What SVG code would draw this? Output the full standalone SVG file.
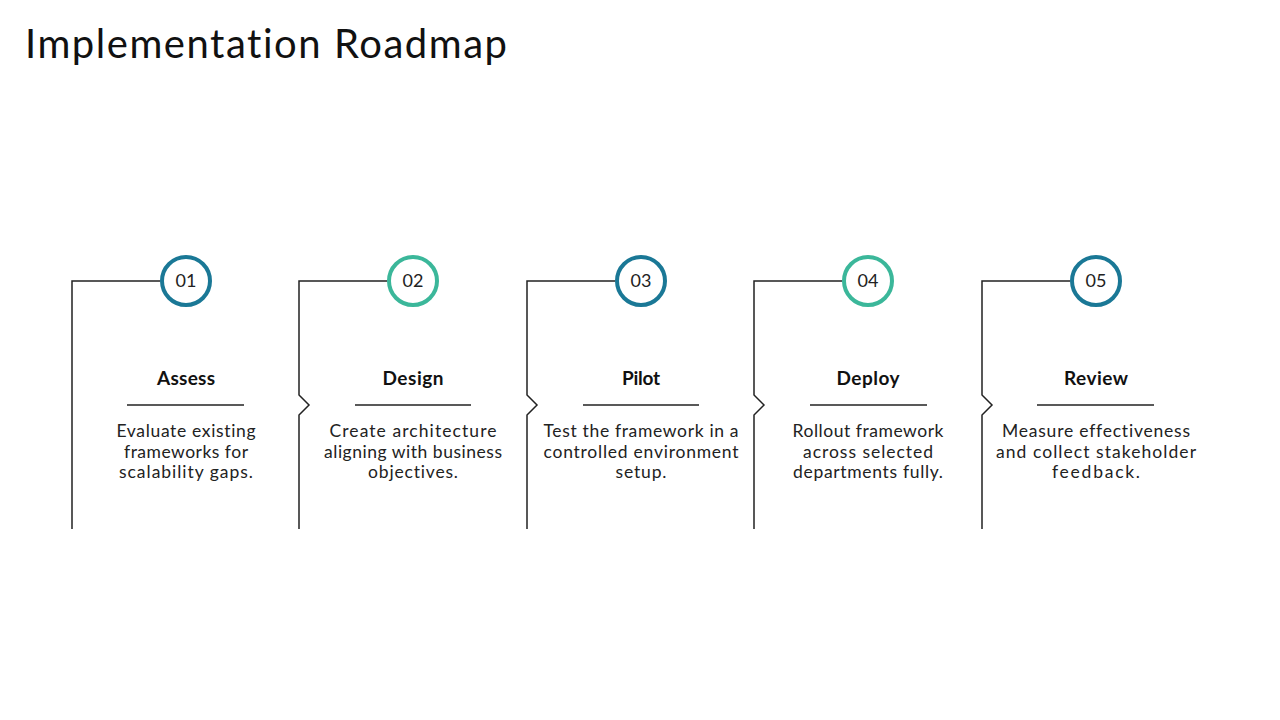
<svg xmlns="http://www.w3.org/2000/svg" width="1280" height="720" viewBox="0 0 1280 720">
<style>
text{font-variant-ligatures:none;font-feature-settings:"liga" 0,"clig" 0}
.title{font-family:Lato,"Open Sans","Liberation Sans",sans-serif;font-size:40px;fill:#111}
.frame{fill:none;stroke:#222;stroke-width:1.5}
.c1{fill:#fff;stroke:#1a7896;stroke-width:4}
.c2{fill:#fff;stroke:#3bb79a;stroke-width:4}
.num{font-family:Lato,"Open Sans","Liberation Sans",sans-serif;font-size:18px;fill:#222;text-anchor:middle}
.head{font-family:Lato,"Open Sans","Liberation Sans",sans-serif;font-size:19px;font-weight:bold;fill:#111;text-anchor:middle}
.body{font-family:Lato,"Open Sans","Liberation Sans",sans-serif;font-size:17.5px;fill:#222;text-anchor:middle}
.rule{stroke:#222;stroke-width:1.5}
</style>
<rect width="1280" height="720" fill="#fff"/>
<text class="title" x="25" y="58" textLength="482" lengthAdjust="spacing">Implementation Roadmap</text>
<g id="connectors">
<path class="frame" d="M160 281 H72 V529"/>
<path class="frame" d="M387 281 H299 V395 L309 405 L299 415 V529"/>
<path class="frame" d="M615 281 H527 V395 L537 405 L527 415 V529"/>
<path class="frame" d="M842 281 H754 V395 L764 405 L754 415 V529"/>
<path class="frame" d="M1070 281 H982 V395 L992 405 L982 415 V529"/>
</g>
<g id="step1">
<circle class="c1" cx="186" cy="281" r="24"/>
<text class="num" x="186" y="287">01</text>
<text class="head" x="186" y="385" textLength="58" lengthAdjust="spacing">Assess</text>
<line class="rule" x1="127" y1="405" x2="244" y2="405"/>
<text class="body" x="186" y="437" textLength="139" lengthAdjust="spacing">Evaluate existing</text>
<text class="body" x="186" y="458" textLength="124" lengthAdjust="spacing">frameworks for</text>
<text class="body" x="186" y="478" textLength="134" lengthAdjust="spacing">scalability gaps.</text>
</g>
<g id="step2">
<circle class="c2" cx="413" cy="281" r="24"/>
<text class="num" x="413" y="287">02</text>
<text class="head" x="413" y="385" textLength="61" lengthAdjust="spacing">Design</text>
<line class="rule" x1="355" y1="405" x2="471" y2="405"/>
<text class="body" x="413" y="437" textLength="167" lengthAdjust="spacing">Create architecture</text>
<text class="body" x="413" y="458" textLength="178" lengthAdjust="spacing">aligning with business</text>
<text class="body" x="413" y="478" textLength="90" lengthAdjust="spacing">objectives.</text>
</g>
<g id="step3">
<circle class="c1" cx="641" cy="281" r="24"/>
<text class="num" x="641" y="287">03</text>
<text class="head" x="641" y="385" textLength="38" lengthAdjust="spacing">Pilot</text>
<line class="rule" x1="583" y1="405" x2="699" y2="405"/>
<text class="body" x="641" y="437" textLength="195" lengthAdjust="spacing">Test the framework in a</text>
<text class="body" x="641" y="458" textLength="195" lengthAdjust="spacing">controlled environment</text>
<text class="body" x="641" y="478" textLength="51" lengthAdjust="spacing">setup.</text>
</g>
<g id="step4">
<circle class="c2" cx="868" cy="281" r="24"/>
<text class="num" x="868" y="287">04</text>
<text class="head" x="868" y="385" textLength="63" lengthAdjust="spacing">Deploy</text>
<line class="rule" x1="810" y1="405" x2="927" y2="405"/>
<text class="body" x="868" y="437" textLength="151" lengthAdjust="spacing">Rollout framework</text>
<text class="body" x="868" y="458" textLength="130" lengthAdjust="spacing">across selected</text>
<text class="body" x="868" y="478" textLength="150" lengthAdjust="spacing">departments fully.</text>
</g>
<g id="step5">
<circle class="c1" cx="1096" cy="281" r="24"/>
<text class="num" x="1096" y="287">05</text>
<text class="head" x="1096" y="385" textLength="64" lengthAdjust="spacing">Review</text>
<line class="rule" x1="1037" y1="405" x2="1154" y2="405"/>
<text class="body" x="1096" y="437" textLength="188" lengthAdjust="spacing">Measure effectiveness</text>
<text class="body" x="1096" y="458" textLength="200" lengthAdjust="spacing">and collect stakeholder</text>
<text class="body" x="1096" y="478" textLength="88" lengthAdjust="spacing">feedback.</text>
</g>
</svg>
